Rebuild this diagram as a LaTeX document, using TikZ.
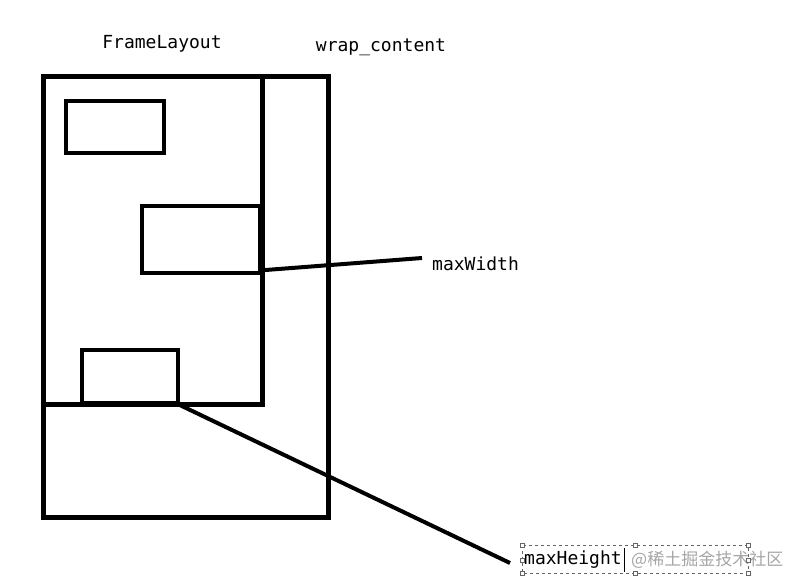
\documentclass[tikz,border=0pt]{standalone}
\usepackage{fontspec}
\setmonofont{DejaVu Sans Mono}
\newfontfamily\cjk{Noto Sans CJK SC}
\begin{document}
\begin{tikzpicture}[x=1pt, y=-1pt,
    box/.style={draw=black, line width=4.5pt, rectangle, inner sep=0pt},
    label/.style={font=\ttfamily\fontsize{18}{18}\selectfont, inner sep=0pt},
    handle/.style={draw=black!60, fill=white, line width=0.5pt, minimum size=4pt, inner sep=0pt}]
        \useasboundingbox[fill=white] (0, 0) rectangle (800, 587);

        \node[box, line width=5pt, minimum width=285pt, minimum height=441pt](WrapContent) at (185.5, 296.5){};
        \node[box, line width=5pt, minimum width=219pt, minimum height=328pt](FrameLayout) at (152.5, 240){};
        \node[box, minimum width=98pt, minimum height=52pt](ChildOne) at (115, 127){};
        \node[box, minimum width=118pt, minimum height=67pt](ChildTwo) at (201, 239.5){};
        \node[box, minimum width=96pt, minimum height=53pt](ChildThree) at (130, 376.5){};

        \node[label](FrameLayoutText) at (162, 44){FrameLayout};
        \node[label](WrapText) at (381, 47){wrap\_content};
        \node[label, anchor=west](MaxWidth) at (432, 264){maxWidth};
        \node[label, anchor=west](MaxHeight) at (524, 560){maxHeight};
        \node[font=\cjk\fontsize{17}{17}\selectfont, text=black!35, anchor=west, inner sep=0pt](Mark) at (631, 560){@稀土掘金技术社区};

        \draw[dashed, draw=black!60, line width=0.6pt] (522, 545) rectangle (748, 573);
        \foreach \hx/\hy in {522/545, 635/545, 748/545, 522/560, 748/560, 522/573, 635/573, 748/573}
            \node[handle] at (\hx, \hy){};
        \draw[line width=1.2pt] (624.5, 548) -- (624.5, 572);

        \coordinate(WidthEnd) at (422, 258);
        \coordinate(HeightEnd) at (510, 563);
        \draw[line width=4pt] ([yshift=5pt]ChildTwo.south east) -- (WidthEnd);
        \draw[line width=4pt] (ChildThree.south east) -- (HeightEnd);

    \end{tikzpicture}
\end{document}
